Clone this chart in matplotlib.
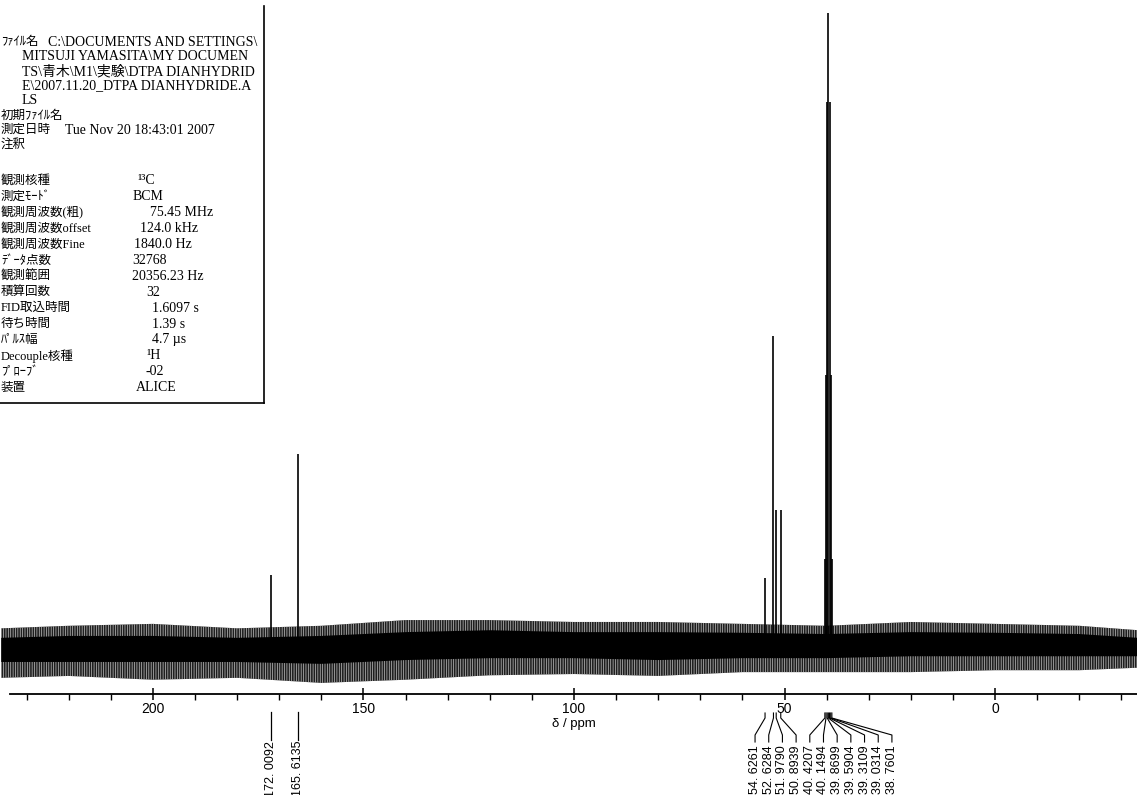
import matplotlib.pyplot as plt
from matplotlib.ticker import MultipleLocator
from matplotlib.transforms import blended_transform_factory

# 13C NMR of DTPA dianhydride (DMSO-d6), peak positions in ppm and relative heights
peak_ppm = [172.0092, 165.6135, 54.6261, 52.6284, 51.9790, 50.8939,
            40.4207, 40.1494, 39.8699, 39.5904, 39.3109, 39.0314, 38.7601]
peak_int = [11.5, 30.6, 11.0, 49.1, 21.8, 21.7,
            14.0, 43.0, 86.0, 100.0, 86.0, 43.0, 14.0]

# peaks picked in groups (singles, CH2 region + solvent multiplet)
label_groups = [[172.0092], [165.6135],
                [54.6261, 52.6284, 51.9790, 50.8939,
                 40.4207, 40.1494, 39.8699, 39.5904, 39.3109, 39.0314, 38.7601]]

# baseline noise envelope, relative intensity
noise_ppm = [236, 220, 200, 180, 160, 140, 120, 100, 80, 60, 40, 20, 0, -20, -34]
noise_hi = [3.1, 3.5, 3.8, 3.1, 3.5, 4.4, 4.4, 4.1, 4.1, 3.8, 3.5, 4.1, 3.8, 3.5, 2.8]
noise_lo = [-4.7, -4.4, -5.0, -4.7, -5.5, -5.0, -4.3, -4.1, -4.4, -3.8, -3.8, -3.8, -3.5, -3.5, -3.1]
core_hi = [1.6, 1.9, 1.9, 1.6, 1.9, 2.5, 2.8, 2.5, 2.5, 2.4, 2.2, 2.5, 2.4, 2.2, 1.6]
core_lo = [-2.2, -2.2, -2.2, -2.2, -2.5, -1.9, -1.6, -1.6, -1.9, -1.6, -1.6, -1.3, -1.3, -1.3, -1.3]

x_ticks = [200, 150, 100, 50, 0]

# acquisition header
file_lines = [("ﾌｧｲﾙ名", r"C:\DOCUMENTS AND SETTINGS\ "),
              ("", r"MITSUJI YAMASITA\MY DOCUMEN"),
              ("", r"TS\青木\M1\実験\DTPA DIANHYDRID"),
              ("", r"E\2007.11.20_DTPA DIANHYDRIDE.A"),
              ("", "LS"),
              ("初期ﾌｧｲﾙ名", ""),
              ("測定日時", "Tue Nov 20 18:43:01 2007"),
              ("注釈", "")]
param_names = ["観測核種", "測定ﾓｰﾄﾞ", "観測周波数(粗)", "観測周波数offset", "観測周波数Fine",
               "ﾃﾞｰﾀ点数", "観測範囲", "積算回数", "FID取込時間", "待ち時間", "ﾊﾟﾙｽ幅",
               "Decouple核種", "ﾌﾟﾛｰﾌﾞ", "装置"]
param_values = ["¹³C", "BCM", "75.45 MHz", "124.0 kHz", "1840.0 Hz", "32768",
                "20356.23 Hz", "32", "1.6097 s", "1.39 s", "4.7 µs", "¹H", "-02", "ALICE"]
param_indent = [137, 133, 150, 140, 134, 132, 132, 146, 152, 152, 152, 146, 146, 136]

W, H = 1137, 795
plt.rcParams['hatch.linewidth'] = 0.5
fig = plt.figure(figsize=(W / 100, H / 100), dpi=100)

ax = fig.add_axes([0, 0, 1, 1])
ax.set_xlim(236.3, -33.7)
ax.set_ylim(-23.15, 102.05)
ax.axis('off')

ov = fig.add_axes([0, 0, 1, 1], zorder=3)
ov.set_xlim(0, W)
ov.set_ylim(H, 0)
ov.axis('off')
ov.patch.set_alpha(0)

# noise band
ax.fill_between(noise_ppm, noise_lo, noise_hi, facecolor='#1e1e1e', lw=0,
                hatch='|||||||', edgecolor='#c4c4c4', zorder=1)
ax.fill_between(noise_ppm, core_lo, core_hi, color='black', lw=0, zorder=2)

# peaks
ax.vlines(peak_ppm, 0, peak_int, color='black', lw=1.2, zorder=3)

# ppm axis
axx = fig.add_axes([0, 1 - 694 / H, 1, 0.0001])
axx.set_xlim(236.3, -33.7)
axx.patch.set_alpha(0)
for s in ['top', 'left', 'right']:
    axx.spines[s].set_visible(False)
axx.spines['bottom'].set_bounds(234, -33.7)
axx.spines['bottom'].set_linewidth(1.3)
axx.set_yticks([])
axx.set_xticks(x_ticks)
axx.xaxis.set_minor_locator(MultipleLocator(10))
axx.tick_params(axis='x', which='major', direction='inout', length=8, width=1.1,
                pad=2, labelsize=10)
axx.tick_params(axis='x', which='minor', direction='out', length=4, width=1.0)
for t in axx.get_xticklabels():
    t.set_family('Liberation Sans')

tr = blended_transform_factory(ax.transData, ov.transData)
ax.text(100, 724, "δ / ppm", transform=tr, ha='center', va='center',
        fontsize=9.5, family='Liberation Sans')

# peak labels and connectors
lab_font = ['Liberation Sans Narrow', 'Liberation Sans']
for grp in label_groups:
    if len(grp) == 1:
        p = grp[0]
        ax.plot([p, p], [712, 740], transform=tr, color='black', lw=0.9)
        ax.text(p, 741, f"{p:.4f}".replace('.', '. '), transform=tr, rotation=90,
                ha='center', va='top', fontsize=9, family=lab_font)
        continue
    for i, p in enumerate(grp):
        lx = 57.0 - 3.25 * i
        ax.plot([p, p, lx, lx], [713, 718, 735, 742], transform=tr,
                color='black', lw=0.8)
        ax.text(lx, 745, f"{p:.4f}".replace('.', '. '), transform=tr, rotation=90,
                ha='center', va='top', fontsize=9, family=lab_font)

# header box
hdr_font = ['Liberation Serif', 'Noto Sans CJK JP']
ov.plot([264, 264], [6, 403], color='black', lw=1.2)
ov.plot([0, 264], [403, 403], color='black', lw=1.2)
for i, (lab, val) in enumerate(file_lines):
    y = 42 + 14.7 * i
    if lab:
        ov.text(1, y, lab, ha='left', va='center', fontsize=9, family=hdr_font)
    if val:
        vx = 22 if not lab else (48 if i == 0 else 65)
        ov.text(vx, y, val, ha='left', va='center', fontsize=10, family=hdr_font)
for i, (lab, val) in enumerate(zip(param_names, param_values)):
    y = 181 + 15.9 * i
    ov.text(1, y, lab, ha='left', va='center', fontsize=9, family=hdr_font)
    ov.text(param_indent[i], y, val, ha='left', va='center', fontsize=10, family=hdr_font)

fig.savefig('out.png', dpi=100, facecolor='white')
